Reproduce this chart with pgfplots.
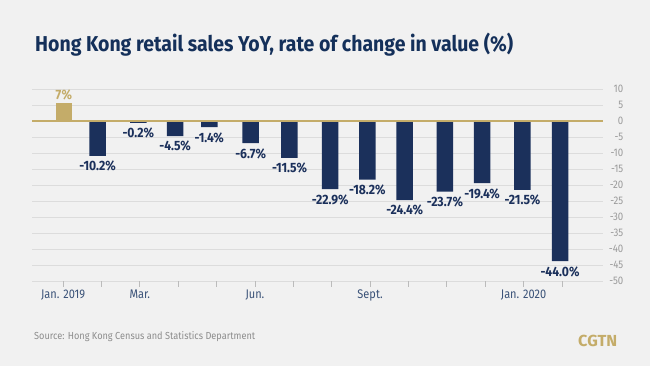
\documentclass[border=0pt]{standalone}
\usepackage{pgfplots}
\pgfplotsset{compat=1.18}
\usepackage{fontspec}
\setmainfont{Fira Sans}
\newfontfamily\lblfont[FakeStretch=0.9]{Fira Sans}
\newfontfamily\tickfont[FakeStretch=0.88]{Fira Sans}
\definecolor{bg}{HTML}{F1F1F1}
\definecolor{navy}{HTML}{1B305B}
\definecolor{gold}{HTML}{C4AC69}
\definecolor{titlec}{HTML}{14305A}
\definecolor{gridc}{HTML}{DCDCDC}
\definecolor{ytickc}{HTML}{9A9A9A}
\definecolor{xtickc}{HTML}{3A5278}
\definecolor{srcc}{HTML}{8C8C8C}
\definecolor{tickc}{HTML}{BBBBBB}

\pgfplotstableread{
x y lab
0.02 5.7 7
}\goldtab

\pgfplotstableread{
x y lab
0.90 -10.9 -10.2
1.96 -0.6 -0.2
2.92 -4.7 -4.5
3.81 -1.9 -1.4
4.89 -6.9 -6.7
5.90 -11.5 -11.5
6.96 -21.3 -22.9
7.93 -18.3 -18.2
8.90 -24.7 -24.4
9.95 -22.1 -23.7
10.92 -19.4 -19.4
11.97 -21.5 -21.5
12.95 -43.8 -44.0
}\navytab

\begin{document}
\begin{tikzpicture}[x=1bp,y=1bp]
\fill[bg] (0,0) rectangle (650,366);
\useasboundingbox (0,0) rectangle (650,366);
\node[anchor=base west, inner sep=0pt, text=titlec] at (35,315)
  {\resizebox{478bp}{\height}{\fontsize{21.5bp}{24bp}\selectfont\bfseries Hong Kong retail sales YoY, rate of change in value (\%)}};
\node[anchor=base west, inner sep=0pt, text=srcc] at (34,27)
  {\resizebox{221bp}{\height}{\fontsize{10.2bp}{12bp}\selectfont Source: Hong Kong Census and Statistics Department}};
\node[anchor=base west, inner sep=0pt, text=gold] at (578,20)
  {\resizebox{39bp}{\height}{\fontsize{16bp}{18bp}\selectfont\bfseries CGTN}};
\begin{axis}[
  at={(32bp,85bp)}, anchor=south west,
  scale only axis, width=571bp, height=192bp,
  xmin=-0.81, xmax=14.07, ymin=-50, ymax=10,
  axis line style={draw=none},
  ymajorgrids, grid style={gridc, line width=0.8bp},
  ytick={-50,-45,...,10},
  yticklabels={-50,-45,-40,-35,-30,-25,-20,-15,-10,-5,0,5,10},
  yticklabel pos=right,
  ytick style={draw=none},
  xtick={0,...,13},
  xticklabels={Jan. 2019,,Mar.,,,Jun.,,,Sept.,,,,Jan. 2020,},
  xtick pos=left,
  tick align=outside, major tick length=5.5bp,
  xtick style={draw=tickc, line width=0.8bp},
  xticklabel style={font=\tickfont\fontsize{12.5bp}{14bp}\selectfont, text=xtickc},
  yticklabel style={font=\tickfont\fontsize{11bp}{13bp}\selectfont, text=ytickc, anchor=east, inner sep=0pt, xshift=15bp},
  ybar, bar width=16.5bp, bar shift=0pt,
  clip=false,
  point meta=explicit symbolic,
]
\addplot[ybar, bar shift=0pt, fill=gold, draw=none,
  nodes near coords={\pgfplotspointmeta\%},
  nodes near coords style={text=gold, anchor=south, inner sep=0pt, yshift=2.5bp,
    font=\lblfont\bfseries\fontsize{13.5bp}{15bp}\selectfont}]
  table[x=x, y=y, meta=lab] {\goldtab};
\addplot[ybar, bar shift=0pt, fill=navy, draw=none,
  nodes near coords={\pgfplotspointmeta\%},
  nodes near coords style={text=navy, anchor=north, inner sep=0pt, yshift=-5bp,
    font=\lblfont\bfseries\fontsize{13.5bp}{15bp}\selectfont}]
  table[x=x, y=y, meta=lab] {\navytab};
\addplot[sharp plot, gold, line width=1.3bp, forget plot, mark=none]
  coordinates {(-0.81,0) (14.07,0)};
\end{axis}
\end{tikzpicture}
\end{document}
